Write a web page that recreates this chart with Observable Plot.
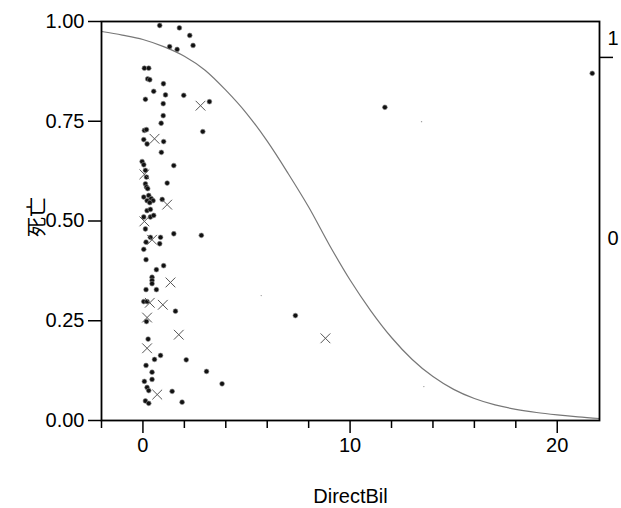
<!DOCTYPE html>
<html>
<head>
<meta charset="utf-8">
<script src="https://cdn.jsdelivr.net/npm/d3@7"></script>
<script src="https://cdn.jsdelivr.net/npm/@observablehq/plot@0.6"></script>
<style>
  html, body { margin: 0; padding: 0; background: white; }
  #chart { width: 621px; height: 508px; }
</style>
</head>
<body>
<div id="chart"></div>
<script>
// ---- data ----
const dotX = [0.81, 1.76, 2.26, 1.29, 1.65, 2.42,
  0.07, 0.28, 0.23, 0.33, 0.99, 0.52, 1.09, 1.97, 0.12, 0.98, 3.21, 0.98, 0.88, 2.89, 0.07, 0.17, 0.04, 0.20, 1.00, 0.89,
  -0.04, 0.04, 1.49, 0.12, 0.17, 0.12, 0.17, 0.23, 1.17,
  0.04, 0.28, 0.40, 0.49, 0.20, 0.33, 0.93,
  0.20, 0.36, 0.04, 0.36, 0.52,
  0.12, 1.49, 2.82, 0.36, 0.85, 0.15, 0.81, 0.04, 0.15, 0.65, 1.00,
  0.44, 0.44, 0.44,
  0.15, 0.65, 0.04, 0.20, 1.57, 0.17, 0.25, 0.85, 0.56, 2.09, 0.15, 0.44, 3.07, 0.44, 0.07, 0.20, 0.28, 3.82, 1.41, 0.12, 0.28, 1.89,
  7.36, 11.68, 21.69];
const dotY = [0.990, 0.984, 0.965, 0.937, 0.930, 0.940,
  0.883, 0.883, 0.856, 0.854, 0.844, 0.825, 0.816, 0.815, 0.805, 0.794, 0.799, 0.764, 0.745, 0.724, 0.727, 0.729, 0.704, 0.693, 0.699, 0.672,
  0.649, 0.641, 0.639, 0.627, 0.610, 0.593, 0.585, 0.581, 0.595,
  0.560, 0.564, 0.556, 0.551, 0.551, 0.546, 0.554,
  0.526, 0.529, 0.510, 0.510, 0.514,
  0.480, 0.468, 0.464, 0.459, 0.459, 0.447, 0.443, 0.429, 0.403, 0.378, 0.388,
  0.359, 0.351, 0.343,
  0.328, 0.328, 0.298, 0.298, 0.274, 0.248, 0.204, 0.163, 0.153, 0.152, 0.138, 0.121, 0.123, 0.103, 0.098, 0.083, 0.075, 0.092, 0.073, 0.049, 0.043, 0.046,
  0.263, 0.785, 0.870];
const crossX = [2.78, 0.56, 0.07, 1.17, 0.07, 0.44, 1.33, 0.33, 0.96, 0.20, 1.73, 0.20, 0.69, 8.81];
const crossY = [0.789, 0.706, 0.617, 0.541, 0.499, 0.453, 0.346, 0.295, 0.290, 0.258, 0.215, 0.181, 0.065, 0.206];
const faintX = [5.71, 13.45, 13.56];
const faintY = [0.313, 0.749, 0.085];
const curveX = [-2, -1, 0, 1, 2, 3, 4, 5, 6, 7, 8, 9, 10, 11, 12, 13, 14, 15, 16, 17, 18, 19, 20, 21, 22.04];
const curveY = [0.975, 0.966, 0.955, 0.937, 0.913, 0.878, 0.828, 0.77, 0.70, 0.62, 0.535, 0.44, 0.352, 0.275, 0.208, 0.153, 0.11, 0.078, 0.055, 0.039, 0.028, 0.02, 0.014, 0.009, 0.005];
const xMajorTicks = [0, 10, 20];
const xMinorTicks = [-2, 2, 4, 6, 8, 12, 14, 16, 18];
const yTicks = [0, 0.25, 0.5, 0.75, 1];
const levelBoundary = [0.91];
const levelLabels = ["1", "0"];
const levelCenters = [0.958, 0.455];
const xLabel = "DirectBil";
const yLabel = "死亡";

// ---- build tables ----
const dots = dotX.map((x, i) => ({x, y: dotY[i]}));
const crosses = crossX.map((x, i) => ({x, y: crossY[i]}));
const faint = faintX.map((x, i) => ({x, y: faintY[i]}));
const curve = curveX.map((x, i) => ({x, y: curveY[i]}));

const font = "'Liberation Sans', Arial, 'Noto Sans CJK JP', sans-serif";

const chart = Plot.plot({
  width: 621,
  height: 508,
  marginLeft: 101,
  marginRight: 22,
  marginTop: 21,
  marginBottom: 88,
  x: {domain: [-2, 22.04]},
  y: {domain: [0, 1]},
  style: {fontFamily: font, background: "white", color: "black"},
  marks: [
    Plot.line(curve, {x: "x", y: "y", stroke: "#777", strokeWidth: 1.2, curve: "monotone-x"}),
    Plot.dot(faint, {x: "x", y: "y", r: 0.7, fill: "#999"}),
    Plot.dot(dots, {x: "x", y: "y", r: 2.4, fill: "#111", stroke: "#888", strokeWidth: 0.6}),
    Plot.dot(crosses, {x: "x", y: "y", symbol: "times", r: 4.5, stroke: "#555", strokeWidth: 1}),
    Plot.frame({stroke: "black", strokeWidth: 1.8}),
    Plot.axisY({ticks: yTicks, tickSize: 13, tickPadding: 4, tickFormat: d3.format(".2f"), fontSize: 20, strokeWidth: 1.5, label: null}),
    Plot.text([yLabel], {text: d => d, frameAnchor: "left", rotate: -90, dx: -64, dy: 16, fontSize: 20, lineAnchor: "middle"}),
    Plot.axisY({anchor: "right", ticks: levelBoundary, tickSize: 13, tickFormat: () => "", strokeWidth: 1.5, label: null}),
    Plot.axisY({anchor: "right", ticks: levelCenters, tickSize: 0, tickPadding: 8, tickFormat: (d, i) => levelLabels[i], fontSize: 20, label: null}),
    Plot.axisX({ticks: xMajorTicks, tickSize: 13, tickPadding: 4, fontSize: 20, strokeWidth: 1.5,
      label: xLabel, labelAnchor: "center", labelArrow: "none", labelOffset: 82}),
    Plot.axisX({ticks: xMinorTicks, tickSize: 8, tickFormat: () => "", strokeWidth: 1.5, label: null})
  ]
});
document.getElementById("chart").appendChild(chart);
</script>
</body>
</html>
